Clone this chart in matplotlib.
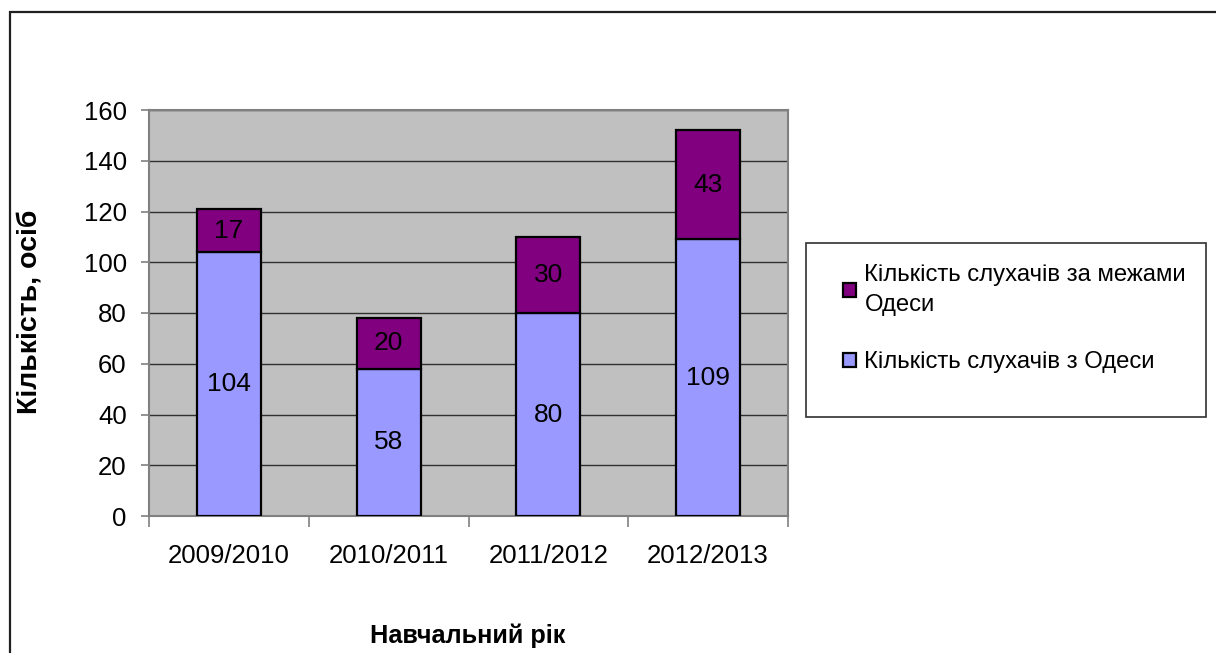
import matplotlib
matplotlib.use("Agg")
import matplotlib.pyplot as plt
import numpy as np
from matplotlib.patches import Rectangle, Patch

plt.rcParams["font.family"] = ["Liberation Sans", "DejaVu Sans"]

years = ["2009/2010", "2010/2011", "2011/2012", "2012/2013"]
from_odesa = [104, 58, 80, 109]
outside_odesa = [17, 20, 30, 43]
label_outside = "Кількість слухачів за межами\nОдеси"
label_odesa = "Кількість слухачів з Одеси"

fig = plt.figure(figsize=(12.16, 6.53), dpi=100)
ax = fig.add_axes([149 / 1216, 137 / 653, 639 / 1216, 406 / 653])
ax.set_facecolor("#c0c0c0")

x = np.arange(len(years))
w = 0.4
b1 = ax.bar(x, from_odesa, w, color="#9999ff", edgecolor="black", linewidth=1.6, zorder=3)
b2 = ax.bar(x, outside_odesa, w, bottom=from_odesa, color="#800080", edgecolor="black",
            linewidth=1.6, zorder=3)
ax.bar_label(b1, labels=[str(v) for v in from_odesa], label_type="center", fontsize=19)
ax.bar_label(b2, labels=[str(v) for v in outside_odesa], label_type="center", fontsize=19)

ax.set_xlim(-0.5, len(years) - 0.5)
ax.set_ylim(0, 160)
ax.set_yticks(np.arange(0, 161, 20))
ax.yaxis.grid(True, color="#303030", linewidth=1.0, zorder=1)
ax.set_axisbelow(True)

ax.set_xticks(x)
ax.set_xticklabels(years)
ax.set_xticks(np.arange(-0.5, len(years)), minor=True)
ax.tick_params(axis="x", which="major", length=0, pad=20, labelsize=18.5)
ax.tick_params(axis="x", which="minor", length=8, width=1.2, color="#808080")
ax.tick_params(axis="y", length=6, width=1.2, color="#808080", pad=10, labelsize=18.5)
for s in ax.spines.values():
	s.set_color("#808080")
	s.set_linewidth(1.5)

fig.text(30 / 1216, 1 - 312 / 653, "Кількість, осіб", rotation=90, ha="center", va="center",
         fontsize=20.5, fontweight="bold")
fig.text(468 / 1216, 1 - 636 / 653, "Навчальний рік", ha="center", va="center",
         fontsize=18.2, fontweight="bold")

# legend frame drawn by hand, legend entries inside it
fig.patches.append(Rectangle((806 / 1216, 1 - 417 / 653), 400 / 1216, 174 / 653,
                             transform=fig.transFigure, facecolor="white",
                             edgecolor="#303030", linewidth=1.2))
handles = [Patch(facecolor="#800080", edgecolor="black", linewidth=1.6),
           Patch(facecolor="#9999ff", edgecolor="black", linewidth=1.6)]
leg = fig.legend(handles, [label_outside, label_odesa], loc="upper left",
                 bbox_to_anchor=(831 / 1216, 1 - 252 / 653), frameon=False, fontsize=17.2,
                 handlelength=0.55, handleheight=0.55, handletextpad=0.35, labelspacing=1.5,
                 borderpad=0)
for t in leg.get_texts():
	t.set_linespacing(1.45)

# outer chart border (cut off at right and bottom)
fig.patches.append(Rectangle((10 / 1216, -0.1), 1.2, 1 - 12 / 653 + 0.1,
                             transform=fig.transFigure, facecolor="none",
                             edgecolor="#202020", linewidth=1.6))

fig.savefig("out.png", dpi=100)
